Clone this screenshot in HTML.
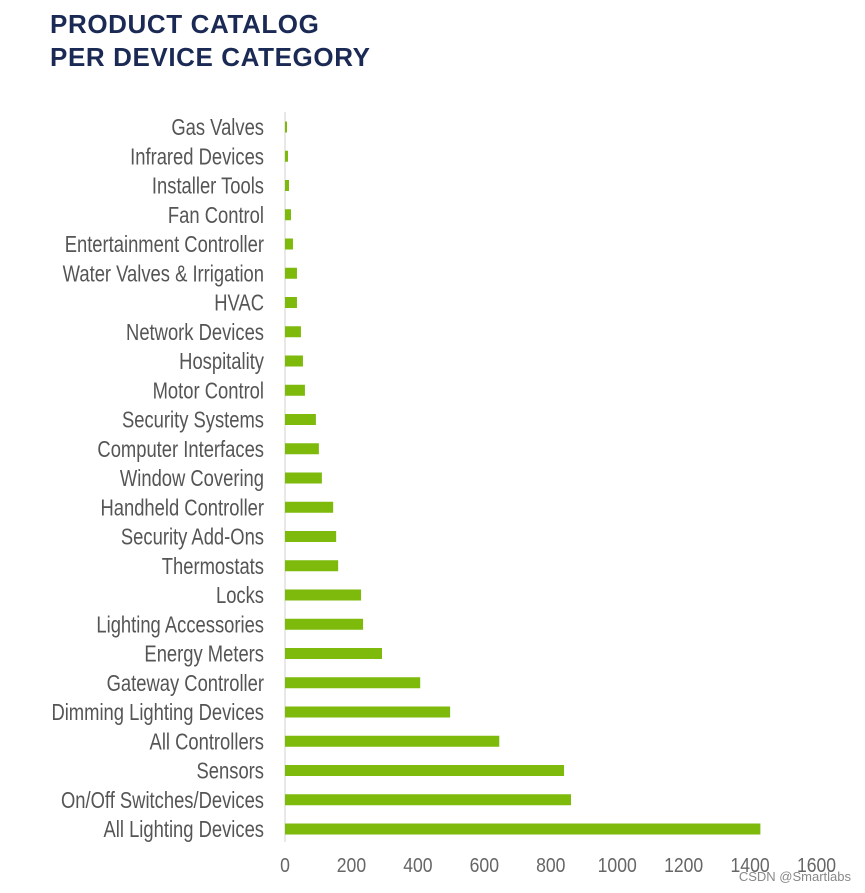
<!DOCTYPE html>
<html><head><meta charset="utf-8">
<style>
html,body{margin:0;padding:0;background:#fff;width:865px;height:893px;overflow:hidden}
.title{position:absolute;left:50px;top:8px;font-family:"Liberation Sans",sans-serif;font-weight:bold;font-size:26px;line-height:33px;letter-spacing:0.6px;color:#1b2a55}
.wm{position:absolute;right:14px;top:869px;font-family:"Liberation Sans",sans-serif;font-size:13px;color:#888}
</style></head><body>
<div class="title">PRODUCT CATALOG<br>PER DEVICE CATEGORY</div>
<svg id="chart" width="865" height="893" style="position:absolute;left:0;top:0"></svg>
<div class="wm">CSDN @Smartlabs</div>
<script>
const categories=["Gas Valves","Infrared Devices","Installer Tools","Fan Control","Entertainment Controller","Water Valves & Irrigation","HVAC","Network Devices","Hospitality","Motor Control","Security Systems","Computer Interfaces","Window Covering","Handheld Controller","Security Add-Ons","Thermostats","Locks","Lighting Accessories","Energy Meters","Gateway Controller","Dimming Lighting Devices","All Controllers","Sensors","On/Off Switches/Devices","All Lighting Devices"];
const values=[6,9,12,18,24,36,36,48,54,60,93,102,111,145,154,160,229,235,292,407,497,645,840,861,1431];
const ticks=[0,200,400,600,800,1000,1200,1400,1600];
const NS="http://www.w3.org/2000/svg";
const svg=document.getElementById("chart");
const x0=285,pxPer=0.3322;
const xs=v=>x0+v*pxPer;
const y0=127,step=29.25;
const ys=i=>y0+i*step;
function mk(t,a){const e=document.createElementNS(NS,t);for(const k in a)e.setAttribute(k,a[k]);svg.appendChild(e);return e;}
const ax=mk("line",{x1:x0,y1:112,x2:x0,y2:842,stroke:"#d0d0d0","stroke-width":1});


categories.forEach((c,i)=>{
  const b=mk("rect",{x:x0,y:ys(i)-5.5,width:xs(values[i])-x0,height:11,fill:"#7dba0b"});
  
  
  const t=mk("text",{x:0,y:0,"text-anchor":"end","font-family":"Liberation Sans, sans-serif","font-size":23,fill:"#555",transform:"translate(264,"+(ys(i)+8)+") scale(0.8,1)"});
  t.textContent=c;
  
  
});
ticks.forEach(v=>{
  const t=mk("text",{x:0,y:0,"text-anchor":"middle","font-family":"Liberation Sans, sans-serif","font-size":20,fill:"#666",transform:"translate("+xs(v)+",872) scale(0.88,1)"});
  t.textContent=v;
  
  
});
</script>
</body></html>
